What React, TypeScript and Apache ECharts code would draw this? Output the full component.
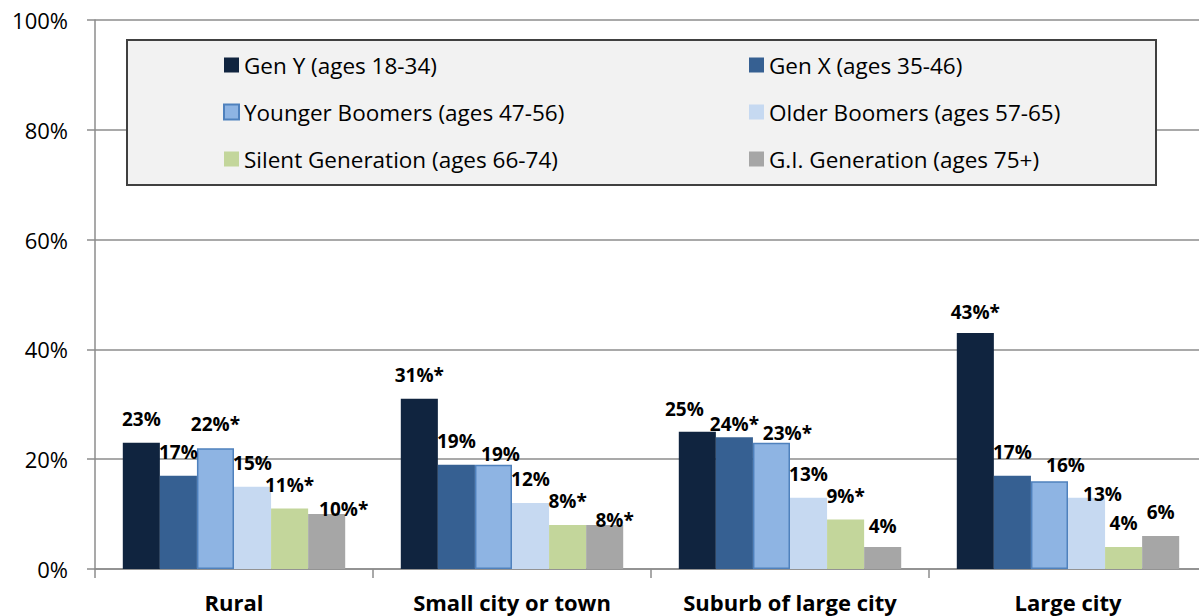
import React, { useEffect, useRef } from "react";
import * as echarts from "echarts";

const categories = ["Rural", "Small city or town", "Suburb of large city", "Large city"];
const seriesNames = [
  "Gen Y (ages 18-34)",
  "Gen X (ages 35-46)",
  "Younger Boomers (ages 47-56)",
  "Older Boomers (ages 57-65)",
  "Silent Generation (ages 66-74)",
  "G.I. Generation (ages 75+)",
];
const genY = [23, 31, 25, 43];
const genX = [17, 19, 24, 17];
const youngerBoomers = [22, 19, 23, 16];
const olderBoomers = [15, 12, 13, 13];
const silentGen = [11, 8, 9, 4];
const giGen = [10, 8, 4, 6];
// asterisk = statistically significant
const genYStar = [false, true, false, true];
const genXStar = [false, false, true, false];
const youngerStar = [true, false, true, false];
const olderStar = [false, false, false, false];
const silentStar = [true, true, true, false];
const giStar = [true, true, false, false];
const yTicks = [0, 20, 40, 60, 80, 100];

const seriesValues = [genY, genX, youngerBoomers, olderBoomers, silentGen, giGen];
const seriesStars = [genYStar, genXStar, youngerStar, olderStar, silentStar, giStar];

// label nudges (px) keyed "series-category"
const labelNudges: Record<string, [number, number]> = {
  "5-0": [17, 19],
  "2-1": [7, 13],
  "5-1": [10, 19],
  "0-2": [-13, 1],
  "1-2": [0, 11],
  "2-2": [16, 14],
  "5-2": [0, 3],
  "0-3": [0, 3],
  "2-3": [16, 8],
  "3-3": [16, 20],
};

const colors = ["#10243f", "#366092", "#8eb4e3", "#c6d9f1", "#c3d69b", "#a6a6a6"];
const FONT = "'Open Sans', 'Liberation Sans', sans-serif";

export default function App() {
  const ref = useRef<HTMLDivElement>(null);
  useEffect(() => {
    if (!ref.current) return;
    const chart = echarts.init(ref.current, undefined, { renderer: "svg" });
    const series = seriesNames.map((name, si) => ({
      name,
      type: "bar",
      barGap: "0%",
      barCategoryGap: "20%",
      itemStyle: {
        color: colors[si],
        borderColor: si === 2 ? "#4f81bd" : "rgba(0,0,0,0)",
        borderWidth: si === 2 ? 1.5 : 0,
      },
      label: {
        show: true,
        position: "top",
        distance: 24,
        verticalAlign: "middle",
        fontFamily: FONT,
        fontWeight: "bold",
        fontSize: 19,
        color: "#000",
        formatter: (p: any) =>
          `${p.value}%${seriesStars[si][p.dataIndex] ? "*" : ""}`,
      },
      data: seriesValues[si].map((v, ci) => {
        const n = labelNudges[`${si}-${ci}`];
        return n ? { value: v, label: { offset: n } } : { value: v };
      }),
    }));
    const legendBase = {
      orient: "vertical",
      itemWidth: 15,
      itemHeight: 15,
      itemGap: 23,
      icon: "rect",
      z: 6,
      textStyle: { fontFamily: FONT, fontSize: 22.5, color: "#000", lineHeight: 24 },
      selectedMode: false,
    };
    chart.setOption({
      animation: false,
      textStyle: { fontFamily: FONT },
      grid: { left: 95, top: 20, width: 1112, height: 549, containLabel: false, outerBoundsMode: "none" },
      legend: [
        { ...legendBase, left: 218, top: 48, data: [seriesNames[0], seriesNames[2], seriesNames[4]] },
        { ...legendBase, left: 744, top: 48, data: [seriesNames[1], seriesNames[3], seriesNames[5]] },
      ],
      graphic: [
        {
          type: "rect",
          z: 5,
          shape: { x: 127, y: 40, width: 1029, height: 145 },
          style: { fill: "#f2f2f2", stroke: "#404040", lineWidth: 2 },
        },
      ],
      xAxis: {
        type: "category",
        data: categories,
        axisLine: { lineStyle: { color: "#8c8c8c", width: 1.5 } },
        axisTick: { show: true, length: 9, inside: false, alignWithLabel: false, lineStyle: { color: "#8c8c8c", width: 1.5 } },
        axisLabel: { margin: 22, fontFamily: FONT, fontSize: 22, fontWeight: "bold", color: "#000" },
      },
      yAxis: {
        type: "value",
        min: yTicks[0],
        max: yTicks[yTicks.length - 1],
        interval: yTicks[1] - yTicks[0],
        axisLine: { show: true, lineStyle: { color: "#8c8c8c", width: 1.5 } },
        axisTick: { show: true, length: 8, lineStyle: { color: "#8c8c8c", width: 1.5 } },
        splitLine: { lineStyle: { color: "#8c8c8c", width: 1.5 } },
        axisLabel: { margin: 27, fontFamily: FONT, fontSize: 22, color: "#000", formatter: "{value}%" },
      },
      series,
    });
    return () => chart.dispose();
  }, []);
  return (
    <div style={{ position: "fixed", left: 0, top: 0, width: 1199, height: 616, overflow: "hidden", background: "#fff" }}>
      <div ref={ref} style={{ position: "absolute", left: 0, top: 0, width: 1216, height: 616 }} />
    </div>
  );
}
